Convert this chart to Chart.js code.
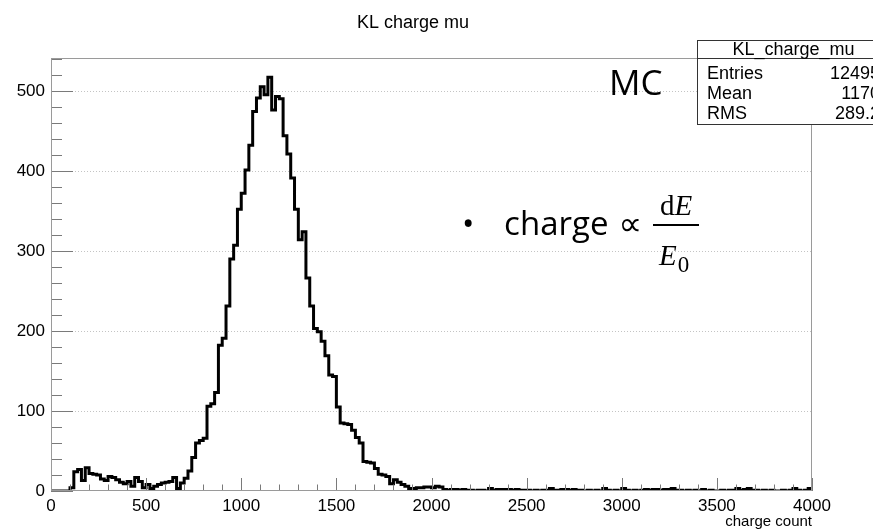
<!DOCTYPE html>
<html>
<head>
<meta charset="utf-8">
<title>KL charge mu</title>
<script src="https://cdn.jsdelivr.net/npm/chart.js@4.4.1/dist/chart.umd.min.js"></script>
<style>
  html, body { margin: 0; padding: 0; background: #fff; }
  #wrap { position: relative; width: 873px; height: 532px; }
</style>
</head>
<body>
<div id="wrap"><canvas id="hist" width="873" height="532"></canvas></div>
<script>
// ROOT TH1 binning: 200 bins from 0 to 4000
const nBins = 200;
const xMin = 0;
const xMax = 4000;
const yMax = 541;

// bin contents, 10 bins per row
const binCounts = [
    0, 0, 0, 0, 0, 4, 24, 27, 13, 29,
    22, 21, 20, 15, 13, 18, 17, 14, 11, 9,
    12, 6, 17, 12, 4, 8, 3, 6, 8, 10,
    11, 12, 17, 3, 10, 16, 25, 42, 60, 63,
    66, 106, 109, 123, 182, 191, 231, 290, 307, 352,
    372, 401, 432, 474, 491, 505, 495, 517, 476, 493,
    490, 444, 421, 391, 352, 314, 324, 266, 231, 203,
    199, 187, 169, 145, 143, 105, 85, 84, 83, 76,
    67, 60, 37, 36, 35, 28, 21, 20, 18, 9,
    14, 11, 8, 6, 3, 3, 4, 4, 5, 5,
    4, 6, 5, 2, 1, 2, 2, 1, 2, 1,
    1, 0, 1, 1, 0, 3, 1, 2, 2, 2,
    2, 1, 2, 1, 1, 1, 0, 1, 0, 1,
    1, 3, 1, 1, 2, 2, 1, 2, 1, 1,
    0, 1, 0, 1, 0, 3, 1, 0, 1, 0,
    3, 1, 0, 1, 0, 1, 2, 1, 2, 2,
    1, 2, 2, 3, 1, 1, 0, 1, 0, 1,
    0, 2, 0, 1, 0, 0, 1, 0, 1, 1,
    3, 1, 2, 3, 1, 1, 0, 1, 0, 1,
    0, 0, 1, 0, 1, 3, 1, 0, 1, 3
];

const xTickValues = [0, 500, 1000, 1500, 2000, 2500, 3000, 3500, 4000];
const xTickLabels = ['0', '500', '1000', '1500', '2000', '2500', '3000', '3500', '4000'];
const yTickValues = [0, 100, 200, 300, 400, 500];
const yTickLabels = ['0', '100', '200', '300', '400', '500'];

const histTitle = 'KL charge mu';
const xAxisTitle = 'charge count';
const statsName = 'KL_charge_mu';
const statsLabels = ['Entries', 'Mean', 'RMS'];
const statsValues = ['12495', '1170', '289.2'];

const ROOT_FONT = "'Liberation Sans', Arial, sans-serif";
const SLIDE_FONT = "'Open Sans', 'Liberation Sans', sans-serif";
const MATH_FONT = "'Liberation Serif', 'DejaVu Serif', serif";
const SYMBOL_FONT = "'DejaVu Sans', sans-serif";

// points at the low edge of each bin + closing point at xMax
const binWidth = (xMax - xMin) / nBins;
const histPoints = binCounts.map((c, i) => ({ x: xMin + i * binWidth, y: c }));
histPoints.push({ x: xMax, y: binCounts[nBins - 1] });

// ROOT-like frame, inward ticks, dotted y grid, stats box and slide annotations
const rootFrame = {
    id: 'rootFrame',
    beforeDatasetsDraw(chart) {
        const { ctx, chartArea: a, scales: { y } } = chart;
        ctx.save();
        ctx.strokeStyle = '#c4c4c4';
        ctx.lineWidth = 1;
        ctx.setLineDash([1, 2]);
        yTickValues.forEach(v => {
            if (v === 0) return;
            const py = Math.round(y.getPixelForValue(v)) + 0.5;
            ctx.beginPath();
            ctx.moveTo(a.left, py);
            ctx.lineTo(a.right, py);
            ctx.stroke();
        });
        ctx.restore();
    },
    afterDraw(chart) {
        const { ctx, chartArea: a, scales: { x, y } } = chart;
        ctx.save();

        // ticks pointing into the frame
        ctx.strokeStyle = '#7a7a7a';
        ctx.lineWidth = 1;
        for (let v = xMin; v <= xMax; v += 100) {
            const px = Math.round(x.getPixelForValue(v)) + 0.5;
            const len = v % 500 === 0 ? 13 : 6.5;
            ctx.beginPath();
            ctx.moveTo(px, a.bottom);
            ctx.lineTo(px, a.bottom - len);
            ctx.stroke();
        }
        for (let v = 0; v <= 540; v += 20) {
            const py = Math.round(y.getPixelForValue(v)) + 0.5;
            const len = v % 100 === 0 ? 22 : 11;
            ctx.beginPath();
            ctx.moveTo(a.left, py);
            ctx.lineTo(a.left + len, py);
            ctx.stroke();
        }

        // frame
        ctx.strokeStyle = '#9a9a9a';
        ctx.strokeRect(a.left + 0.5, a.top + 0.5, a.right - a.left - 1, a.bottom - a.top - 1);

        // title and axis title
        ctx.fillStyle = '#000';
        ctx.font = '18px ' + ROOT_FONT;
        ctx.textAlign = 'center';
        ctx.textBaseline = 'alphabetic';
        ctx.fillText(histTitle, 413, 28);
        ctx.font = '15px ' + ROOT_FONT;
        ctx.textAlign = 'right';
        ctx.fillText(xAxisTitle, a.right, 526);

        // stats box (runs off the right edge like the original)
        const bx = 697.5, by = 40.5, bw = 192, bh = 84;
        ctx.fillStyle = '#fff';
        ctx.fillRect(bx, by, bw, bh);
        ctx.strokeStyle = '#333';
        ctx.strokeRect(bx, by, bw, bh);
        ctx.beginPath();
        ctx.moveTo(bx, 58.5);
        ctx.lineTo(bx + bw, 58.5);
        ctx.stroke();
        ctx.fillStyle = '#000';
        ctx.font = '18px ' + ROOT_FONT;
        ctx.textAlign = 'center';
        ctx.fillText(statsName, bx + bw / 2, 55);
        statsLabels.forEach((lab, i) => {
            const base = 79 + i * 20;
            ctx.textAlign = 'left';
            ctx.fillText(lab, 707, base);
            ctx.textAlign = 'right';
            ctx.fillText(statsValues[i], 880, base);
        });

        // slide annotations
        ctx.textAlign = 'left';
        ctx.font = '35px ' + SLIDE_FONT;
        ctx.fillText('MC', 609, 95);

        // "• charge ∝" with the proportional sign ending just left of the fraction
        ctx.font = '33px ' + SYMBOL_FONT;
        ctx.textAlign = 'right';
        ctx.fillText('\u221D', 642, 235);
        const propStart = 642 - ctx.measureText('\u221D').width;
        ctx.font = '33px ' + SLIDE_FONT;
        ctx.fillText('charge', propStart - 10, 235);
        const textStart = propStart - 10 - ctx.measureText('charge').width;
        ctx.textAlign = 'center';
        ctx.fillText('\u2022', textStart - 36, 235);

        // fraction dE / E0
        ctx.fillRect(653, 224, 46, 2);
        ctx.textAlign = 'left';
        ctx.font = '29px ' + MATH_FONT;
        const dW = ctx.measureText('d').width;
        ctx.font = 'italic 29px ' + MATH_FONT;
        const eW = ctx.measureText('E').width;
        const sx = 676 - (dW + eW) / 2;
        ctx.font = '29px ' + MATH_FONT;
        ctx.fillText('d', sx, 215);
        ctx.font = 'italic 29px ' + MATH_FONT;
        ctx.fillText('E', sx + dW, 215);
        ctx.fillText('E', 659, 265);
        ctx.font = '23px ' + MATH_FONT;
        ctx.fillText('0', 659 + eW + 1, 272);

        ctx.restore();
    }
};

new Chart(document.getElementById('hist'), {
    type: 'line',
    data: {
        datasets: [{
            data: histPoints,
            stepped: 'before',
            borderColor: '#000',
            borderWidth: 3,
            pointRadius: 0,
            fill: false
        }]
    },
    options: {
        responsive: false,
        animation: false,
        events: [],
        layout: { padding: { top: 58, right: 61, left: 0, bottom: 0 } },
        plugins: { legend: { display: false }, tooltip: { enabled: false } },
        scales: {
            x: {
                type: 'linear',
                min: xMin,
                max: xMax,
                afterFit: s => { s.height = 41; },
                afterBuildTicks: s => { s.ticks = xTickValues.map(v => ({ value: v })); },
                grid: { display: false, drawTicks: false },
                border: { display: false },
                ticks: {
                    autoSkip: false,
                    maxRotation: 0,
                    padding: 5,
                    color: '#000',
                    font: { family: ROOT_FONT, size: 17 },
                    callback: v => xTickLabels[xTickValues.indexOf(v)]
                }
            },
            y: {
                min: 0,
                max: yMax,
                afterFit: s => { s.width = 51; },
                afterBuildTicks: s => { s.ticks = yTickValues.map(v => ({ value: v })); },
                grid: { display: false, drawTicks: false },
                border: { display: false },
                ticks: {
                    autoSkip: false,
                    padding: 6,
                    color: '#000',
                    font: { family: ROOT_FONT, size: 17 },
                    callback: v => yTickLabels[yTickValues.indexOf(v)]
                }
            }
        }
    },
    plugins: [rootFrame]
});
</script>
</body>
</html>
